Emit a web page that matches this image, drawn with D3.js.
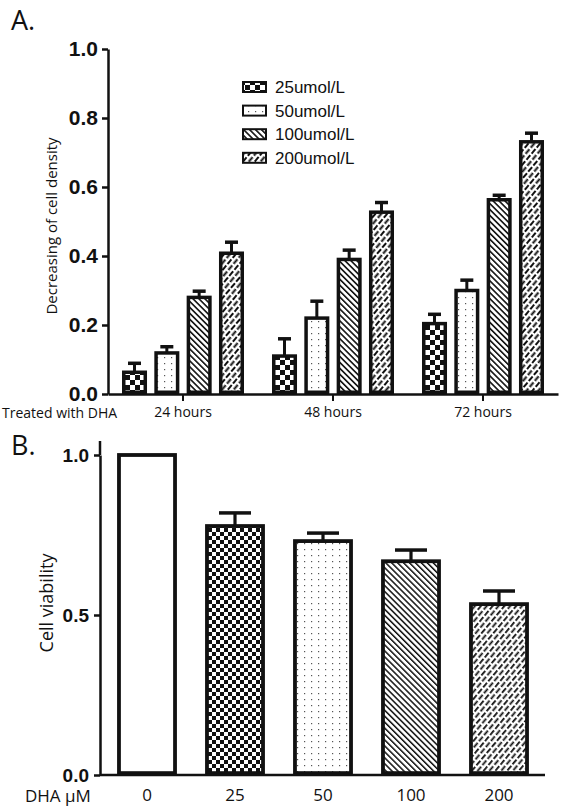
<!DOCTYPE html>
<html><head><meta charset="utf-8">
<script src="https://cdn.jsdelivr.net/npm/d3@7"></script>
<style>body{margin:0;background:#fff}svg{display:block}</style>
</head><body>
<svg id="c" width="564" height="811"></svg>
<script>
// ---- Data: panel A ----
const groupsA = ["24 hours", "48 hours", "72 hours"];
const seriesA = ["25umol/L", "50umol/L", "100umol/L", "200umol/L"];
const valuesA_25  = [0.063, 0.11, 0.204];
const valuesA_50  = [0.119, 0.22, 0.300];
const valuesA_100 = [0.280, 0.39, 0.563];
const valuesA_200 = [0.408, 0.527, 0.731];
const errA_25  = [0.026, 0.05, 0.027];
const errA_50  = [0.018, 0.049, 0.030];
const errA_100 = [0.018, 0.027, 0.013];
const errA_200 = [0.032, 0.028, 0.025];
const ticksA = [0, 0.2, 0.4, 0.6, 0.8, 1.0];
// ---- Data: panel B ----
const catsB = ["0", "25", "50", "100", "200"];
const valuesB = [1.0, 0.778, 0.731, 0.668, 0.534];
const errB = [0, 0.041, 0.025, 0.035, 0.041];
const ticksB = [0, 0.5, 1.0];

const svg = d3.select("#c");
const defs = svg.append("defs");
const SANS = "'Open Sans', 'Noto Sans', sans-serif";
const ARIAL = "'Liberation Sans', Arial, sans-serif";

// ---- patterns ----
function checker(id, s) {
  const p = defs.append("pattern").attr("id", id).attr("patternUnits", "userSpaceOnUse")
    .attr("width", 2*s).attr("height", 2*s);
  p.append("rect").attr("width", 2*s).attr("height", 2*s).attr("fill", "#fff");
  p.append("rect").attr("width", s).attr("height", s).attr("fill", "#111");
  p.append("rect").attr("x", s).attr("y", s).attr("width", s).attr("height", s).attr("fill", "#111");
}
checker("chkA", 5);
checker("chkB", 4);
function dots(id) {
  const p = defs.append("pattern").attr("id", id).attr("patternUnits", "userSpaceOnUse")
    .attr("width", 7).attr("height", 6);
  p.append("rect").attr("width", 7).attr("height", 6).attr("fill", "#fff");
  p.append("rect").attr("x", 3).attr("y", 3).attr("width", 1.2).attr("height", 1.2).attr("fill", "#555");
}
dots("dotA"); dots("dotB");
function diag(id, sp, w) {
  const p = defs.append("pattern").attr("id", id).attr("patternUnits", "userSpaceOnUse")
    .attr("width", sp).attr("height", sp).attr("patternTransform", "rotate(-45)");
  p.append("rect").attr("width", sp).attr("height", sp).attr("fill", "#fff");
  p.append("rect").attr("x", 0).attr("y", 0).attr("width", w).attr("height", sp).attr("fill", "#111");
}
diag("diagA", 4.2, 1.6);
diag("diagB", 4.2, 1.5);
function dashes(id, ang, pw, ph, dw, dh) {
  const p = defs.append("pattern").attr("id", id).attr("patternUnits", "userSpaceOnUse")
    .attr("width", pw).attr("height", ph).attr("patternTransform", `rotate(${ang})`);
  p.append("rect").attr("width", pw).attr("height", ph).attr("fill", "#fff");
  p.append("rect").attr("x", 0).attr("y", 1).attr("width", dw).attr("height", dh).attr("fill", "#111");
  const off = pw / 2;
  p.append("rect").attr("x", off).attr("y", ph / 2 + 1).attr("width", dw).attr("height", dh).attr("fill", "#111");
  p.append("rect").attr("x", off - pw).attr("y", ph / 2 + 1).attr("width", dw).attr("height", dh).attr("fill", "#111");
}
dashes("dashA", -50, 8, 9, 6, 2);
dashes("dashB", -50, 8, 9, 6, 1.8);
const fillsA = ["url(#chkA)", "url(#dotA)", "url(#diagA)", "url(#dashA)"];
const fillsB = ["#fff", "url(#chkB)", "url(#dotB)", "url(#diagB)", "url(#dashB)"];

// ================= Panel A =================
const yA = d3.scaleLinear().domain([0, 1]).range([394, 49]);
const x0 = d3.scaleBand().domain(groupsA).range([108, 558]);
const x1 = d3.scaleBand().domain(seriesA).range([14, 136]).paddingInner(0.226);
const valsA = [valuesA_25, valuesA_50, valuesA_100, valuesA_200];
const errsA = [errA_25, errA_50, errA_100, errA_200];
const rowsA = [];
groupsA.forEach((g, gi) => seriesA.forEach((s, si) =>
  rowsA.push({g, s, si, v: valsA[si][gi], e: errsA[si][gi]})));

const gA = svg.append("g");
const sw = 3.5;
rowsA.forEach(d => {
  const cx = x0(d.g) + x1(d.s) + x1.bandwidth() / 2;
  gA.append("line").attr("x1", cx).attr("x2", cx).attr("y1", yA(d.v)).attr("y2", yA(d.v + d.e))
    .attr("stroke", "#111").attr("stroke-width", 3);
  gA.append("line").attr("x1", cx - 6.5).attr("x2", cx + 6.5).attr("y1", yA(d.v + d.e)).attr("y2", yA(d.v + d.e))
    .attr("stroke", "#111").attr("stroke-width", 3.5);
});
gA.selectAll("rect.bar").data(rowsA).join("rect").attr("class", "bar")
  .attr("x", d => x0(d.g) + x1(d.s) + sw / 2)
  .attr("width", x1.bandwidth() - sw)
  .attr("y", d => yA(d.v))
  .attr("height", d => yA(0) - yA(d.v) - sw / 2)
  .attr("fill", d => fillsA[d.si]).attr("stroke", "#111").attr("stroke-width", sw);

const axA = svg.append("g").attr("transform", "translate(108,0)")
  .call(d3.axisLeft(yA).tickValues(ticksA).tickFormat(d3.format(".1f")).tickSize(6).tickSizeOuter(0).tickPadding(4));
axA.select(".domain").attr("stroke", "#111").attr("stroke-width", 2.5);
axA.selectAll(".tick line").attr("stroke", "#111").attr("stroke-width", 2.5);
axA.selectAll(".tick text").attr("font-family", ARIAL).attr("font-weight", "bold").attr("font-size", 21).attr("fill", "#111");
const axAx = svg.append("g").attr("transform", "translate(0,394)")
  .call(d3.axisBottom(x0).tickSize(7).tickSizeOuter(0).tickPadding(6));
axAx.select(".domain").attr("stroke", "#111").attr("stroke-width", 2.5);
axAx.selectAll(".tick line").attr("stroke", "#111").attr("stroke-width", 2);
axAx.selectAll(".tick text").attr("font-family", SANS).attr("font-size", 14).attr("fill", "#111");
svg.append("text").attr("x", 2).attr("y", 418).text("Treated with DHA")
  .attr("font-family", SANS).attr("font-size", 14).attr("fill", "#111");
svg.append("text").attr("transform", "translate(57,226) rotate(-90)").attr("text-anchor", "middle")
  .text("Decreasing of cell density").attr("font-family", SANS).attr("font-size", 15).attr("fill", "#111");
svg.append("text").attr("x", 11).attr("y", 30).text("A.")
  .attr("font-family", SANS).attr("font-size", 27).attr("fill", "#111");

const leg = svg.append("g");
seriesA.forEach((s, i) => {
  const cy = 87 + i * 23.6;
  leg.append("rect").attr("x", 243).attr("y", cy - 5).attr("width", 23).attr("height", 10)
    .attr("fill", fillsA[i]).attr("stroke", "#111").attr("stroke-width", 2);
  leg.append("text").attr("x", 275).attr("y", cy + 6).text(s)
    .attr("font-family", ARIAL).attr("font-size", 17).attr("fill", "#111");
});

// ================= Panel B =================
const yB = d3.scaleLinear().domain([0, 1]).range([775, 455]);
const xB = d3.scaleBand().domain(catsB).range([103, 543]).paddingInner(0.32).paddingOuter(0.16);
const rowsB = catsB.map((c, i) => ({c, i, v: valuesB[i], e: errB[i]}));
const gB = svg.append("g");
const swB = 3.8;
rowsB.filter(d => d.e > 0).forEach(d => {
  const cx = xB(d.c) + xB.bandwidth() / 2;
  gB.append("line").attr("x1", cx).attr("x2", cx).attr("y1", yB(d.v)).attr("y2", yB(d.v + d.e))
    .attr("stroke", "#111").attr("stroke-width", 3.2);
  gB.append("line").attr("x1", cx - 16).attr("x2", cx + 16).attr("y1", yB(d.v + d.e)).attr("y2", yB(d.v + d.e))
    .attr("stroke", "#111").attr("stroke-width", 3.5);
});
gB.selectAll("rect.bar").data(rowsB).join("rect").attr("class", "bar")
  .attr("x", d => xB(d.c) + swB / 2)
  .attr("width", xB.bandwidth() - swB)
  .attr("y", d => yB(d.v))
  .attr("height", d => yB(0) - yB(d.v) - swB / 2)
  .attr("fill", d => fillsB[d.i]).attr("stroke", "#111").attr("stroke-width", swB);

const axB = svg.append("g").attr("transform", "translate(100,0)")
  .call(d3.axisLeft(yB).tickValues(ticksB).tickFormat(d3.format(".1f")).tickSize(6).tickSizeOuter(0).tickPadding(5));
axB.select(".domain").attr("stroke", "#111").attr("stroke-width", 2.5);
axB.selectAll(".tick line").attr("stroke", "#111").attr("stroke-width", 2.5);
axB.selectAll(".tick text").attr("font-family", ARIAL).attr("font-weight", "bold").attr("font-size", 19).attr("fill", "#111");
svg.append("line").attr("x1", 100).attr("x2", 100).attr("y1", 441).attr("y2", yB(1))
  .attr("stroke", "#111").attr("stroke-width", 2.5);
const axBx = svg.append("g").attr("transform", "translate(0,775)")
  .call(d3.axisBottom(xB).tickSize(0).tickSizeOuter(0).tickPadding(14));
axBx.select(".domain").attr("d", "M100,0H545").attr("stroke", "#111").attr("stroke-width", 2.5);
axBx.selectAll(".tick text").attr("font-family", SANS).attr("font-size", 17).attr("fill", "#111");
svg.append("text").attr("x", 25).attr("y", 802).text("DHA μM")
  .attr("font-family", SANS).attr("font-size", 17).attr("fill", "#111");
svg.append("text").attr("transform", "translate(53,603) rotate(-90)").attr("text-anchor", "middle")
  .text("Cell viability").attr("font-family", SANS).attr("font-size", 18).attr("fill", "#111");
svg.append("text").attr("x", 11).attr("y", 455).text("B.")
  .attr("font-family", SANS).attr("font-size", 27).attr("fill", "#111");
</script>
</body></html>
